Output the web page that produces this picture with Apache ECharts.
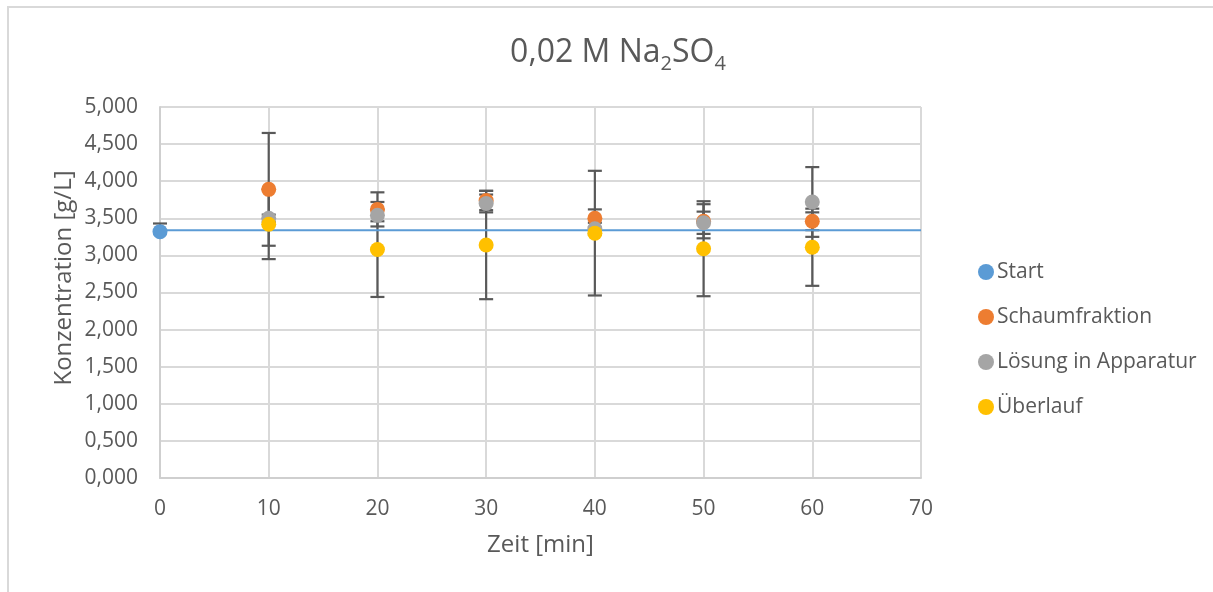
<!DOCTYPE html>
<html>
<head>
<meta charset="utf-8">
<script src="https://cdn.jsdelivr.net/npm/echarts@6/dist/echarts.min.js"></script>
<style>
  html, body { margin: 0; padding: 0; background: #fff; }
  #chart { width: 1213px; height: 592px; }
</style>
</head>
<body>
<div id="chart"></div>
<script>
// Sampling times [min]
const times = [10, 20, 30, 40, 50, 60];

// Starting concentration [g/L] (error bar only upwards)
const startTime = 0;
const startValue = 3.32;
const startErrorPlus = 0.11;
const startErrorMinus = 0;
const startLevel = 3.34;

// Foam fraction
const schaumValues = [3.89, 3.62, 3.74, 3.50, 3.46, 3.46];
const schaumErrors = [0.76, 0.23, 0.13, 0.12, 0.23, 0.12];

// Solution remaining in the apparatus
const loesungValues = [3.50, 3.54, 3.70, 3.36, 3.44, 3.72];
const loesungErrors = [0.05, 0.08, 0.12, 0.08, 0.15, 0.47];

// Overflow
const ueberlaufValues = [3.42, 3.08, 3.14, 3.30, 3.09, 3.11];
const ueberlaufErrors = [0.47, 0.64, 0.73, 0.84, 0.64, 0.52];

// Axis ranges
const xMin = 0, xMax = 70, xStep = 10;
const yMin = 0, yMax = 5, yStep = 0.5;

const seriesNames = ['Start', 'Schaumfraktion', 'Lösung in Apparatur', 'Überlauf'];
const seriesColors = ['#5B9BD5', '#ED7D31', '#A5A5A5', '#FFC000'];

const textColor = '#595959';
const gridColor = '#D9D9D9';
const fontFamily = '"Open Sans", "Liberation Sans", sans-serif';

function pairs(xs, ys) { return xs.map((x, i) => [x, ys[i]]); }
// [x, y, plus, minus]
function errRows(xs, ys, es) { return xs.map((x, i) => [x, ys[i], es[i], es[i]]); }

// Vertical error bar with caps, drawn through the axes' own scale
function renderErrorBar(params, api) {
  const x = api.value(0), y = api.value(1);
  const plus = api.value(2), minus = api.value(3);
  const top = api.coord([x, y + plus]);
  const bot = api.coord([x, y - minus]);
  const half = 7;
  const style = { stroke: '#595959', lineWidth: 2.2, fill: null };
  return {
    type: 'group',
    children: [
      { type: 'line', shape: { x1: top[0], y1: top[1], x2: bot[0], y2: bot[1] }, style },
      { type: 'line', shape: { x1: top[0] - half, y1: top[1], x2: top[0] + half, y2: top[1] }, style },
      { type: 'line', shape: { x1: bot[0] - half, y1: bot[1], x2: bot[0] + half, y2: bot[1] }, style }
    ]
  };
}

function errorSeries(data) {
  return {
    type: 'custom',
    renderItem: renderErrorBar,
    data: data,
    encode: { x: 0, y: 1 },
    z: 1,
    silent: true
  };
}

function scatterSeries(name, color, data) {
  return {
    name: name,
    type: 'scatter',
    data: data,
    symbol: 'circle',
    symbolSize: 15,
    itemStyle: { color: color, opacity: 1 },
    z: 3
  };
}

const chart = echarts.init(document.getElementById('chart'), null, { renderer: 'canvas' });

const option = {
  backgroundColor: '#ffffff',
  animation: false,
  color: seriesColors,
  title: {
    text: '{a|0,02 M Na}{s|2}{a|SO}{s|4}',
    left: 613,
    textAlign: 'center',
    top: 30,
    textStyle: {
      fontWeight: 'normal',
      rich: {
        a: { fontFamily: fontFamily, fontSize: 32, fontWeight: 'normal', color: textColor, lineHeight: 36 },
        s: { fontFamily: fontFamily, fontSize: 20, fontWeight: 'normal', color: textColor, lineHeight: 20, padding: [22, 0, 0, 0] }
      }
    }
  },
  grid: { left: 160, right: 292, top: 107, bottom: 114, containLabel: false },
  legend: {
    orient: 'vertical',
    left: 973,
    top: 255,
    itemWidth: 16,
    itemHeight: 16,
    itemGap: 21,
    icon: 'circle',
    data: seriesNames,
    textStyle: { fontFamily: fontFamily, fontSize: 21, color: textColor, padding: [0, 0, 0, -2], lineHeight: 24 }
  },
  xAxis: {
    type: 'value',
    min: xMin, max: xMax, interval: xStep,
    name: 'Zeit [min]',
    nameLocation: 'middle',
    nameGap: 55,
    nameTextStyle: { fontFamily: fontFamily, fontSize: 24, color: textColor },
    axisLine: { show: true, lineStyle: { color: '#CFCFCF', width: 2 } },
    axisTick: { show: false },
    axisLabel: { fontFamily: fontFamily, fontSize: 21, color: textColor, margin: 21 },
    splitLine: { show: true, lineStyle: { color: gridColor, width: 2 } }
  },
  yAxis: {
    type: 'value',
    min: yMin, max: yMax, interval: yStep,
    axisLine: { show: true, lineStyle: { color: '#CFCFCF', width: 2 } },
    axisTick: { show: false },
    axisLabel: {
      fontFamily: fontFamily, fontSize: 21, color: textColor, margin: 22,
      formatter: v => v.toFixed(3).replace('.', ',')
    },
    splitLine: { show: true, lineStyle: { color: gridColor, width: 2 } }
  },
  graphic: [
    {
      type: 'rect',
      shape: { x: 8, y: 7, width: 1240, height: 620 },
      style: { fill: null, stroke: '#D9D9D9', lineWidth: 2 },
      silent: true,
      z: -10
    },
    {
      type: 'text',
      x: 64, y: 278,
      rotation: Math.PI / 2,
      style: {
        text: 'Konzentration [g/L]',
        fontFamily: fontFamily, fontSize: 24, fill: textColor,
        textAlign: 'center', textVerticalAlign: 'middle'
      }
    }
  ],
  series: [
    // level of the starting concentration across the whole time range
    {
      name: 'Startniveau',
      type: 'line',
      data: [[xMin, startLevel], [xMax, startLevel]],
      showSymbol: false,
      symbol: 'none',
      lineStyle: { color: '#5B9BD5', width: 2 },
      z: 2,
      silent: true
    },
    errorSeries([[startTime, startValue, startErrorPlus, startErrorMinus]]),
    errorSeries(errRows(times, schaumValues, schaumErrors)),
    errorSeries(errRows(times, loesungValues, loesungErrors)),
    errorSeries(errRows(times, ueberlaufValues, ueberlaufErrors)),
    scatterSeries(seriesNames[0], seriesColors[0], [[startTime, startValue]]),
    scatterSeries(seriesNames[1], seriesColors[1], pairs(times, schaumValues)),
    scatterSeries(seriesNames[2], seriesColors[2], pairs(times, loesungValues)),
    scatterSeries(seriesNames[3], seriesColors[3], pairs(times, ueberlaufValues))
  ]
};

chart.setOption(option);
</script>
</body>
</html>
